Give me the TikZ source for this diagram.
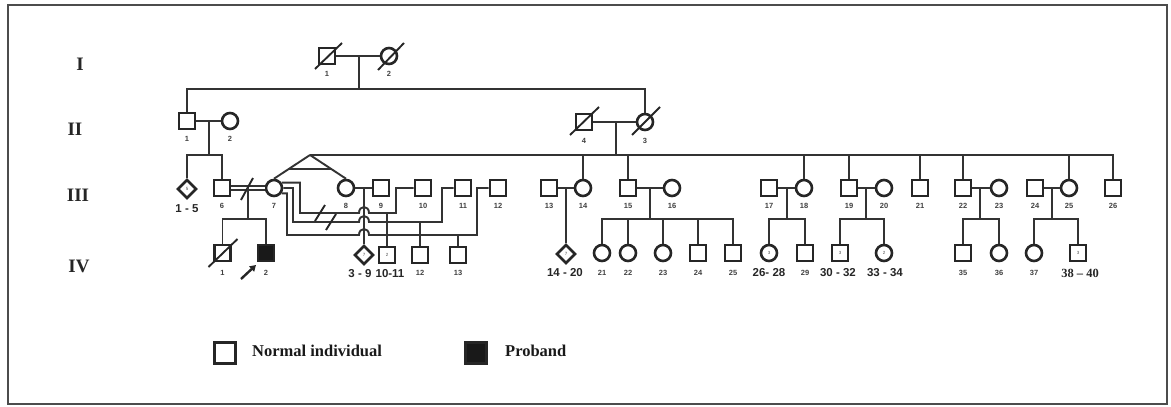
\documentclass[tikz,border=0pt]{standalone}
\usepackage{fontspec}
\setmainfont{Liberation Serif}
\setsansfont{Liberation Sans}
\usetikzlibrary{shapes.geometric,calc,arrows.meta}
\begin{document}
\begin{tikzpicture}[x=1pt,y=-1pt,
  ln/.style={line width=1.9pt, draw=black!80},
  male/.style={rectangle, draw=black!85, line width=2.6pt, minimum size=16pt, inner sep=0pt},
  female/.style={circle, draw=black!85, line width=2.6pt, minimum size=16pt, inner sep=0pt},
  unk/.style={diamond, draw=black!85, line width=2.6pt, minimum size=19pt, inner sep=0pt},
  aff/.style={male, fill=black!90},
  num/.style={font=\sffamily\bfseries\fontsize{7.5}{8}\selectfont, text=black!75, inner sep=0pt},
  big/.style={font=\sffamily\bfseries\fontsize{11.5}{12}\selectfont, text=black!85, inner sep=0pt},
  tinyn/.style={font=\sffamily\fontsize{4.5}{5}\selectfont, text=black!70, inner sep=0pt},
  gen/.style={font=\bfseries\fontsize{19}{21}\selectfont, text=black!85, inner sep=0pt},
  dead/.style={line width=1.9pt, draw=black!85},
  legtxt/.style={font=\bfseries\fontsize{16.5}{18}\selectfont, text=black!90, inner sep=0pt, anchor=west},
]
\useasboundingbox (0,0) rectangle (1171,407);
\draw[line width=1.8pt, black!70] (8,5) rectangle (1167,404);

% generation labels
\node[gen] (gI) at (80,64) {I};
\node[gen] (gII) at (75,129) {II};
\node[gen] (gIII) at (78,195) {III};
\node[gen] (gIV) at (79,266) {IV};

% ---------- Generation I
\node[male] (I1) at (327,56) {};
\node[female] (I2) at (389,56) {};
\draw[dead] ($(I1)+(-12,13)$) -- ($(I1)+(15,-13)$);
\draw[dead] ($(I2)+(-11,14)$) -- ($(I2)+(15,-13)$);
\draw[ln] (I1) -- (I2);
\coordinate (mI) at (359,56);
\coordinate (sI) at (359,89);
\draw[ln] (mI) -- (sI);
\node[num] (lI1) at (327,74) {1};
\node[num] (lI2) at (389,74) {2};

% ---------- Generation II
\node[male] (II1) at (187,121) {};
\node[female] (II2) at (230,121) {};
\node[male] (II4) at (584,122) {};
\node[female] (II3) at (645,122) {};
\draw[dead] ($(II4)+(-14,13)$) -- ($(II4)+(15,-15)$);
\draw[dead] ($(II3)+(-13,13)$) -- ($(II3)+(15,-15)$);
\draw[ln] (II1) -- (II2);
\draw[ln] (II4) -- (II3);
\draw[ln] (II1.north) |- (sI) -| (II3.north);
\node[num] (lII1) at (187,139) {1};
\node[num] (lII2) at (230,139) {2};
\node[num] (lII4) at (584,141) {4};
\node[num] (lII3) at (645,141) {3};

% ---------- Generation III
\node[unk] (U15) at (187,189) {};
\node[tinyn] (tU15) at (187,189) {5};
\node[male] (S6) at (222,188) {};
\node[female] (C7) at (274,188) {};
\node[female] (C8) at (346,188) {};
\node[male] (S9) at (381,188) {};
\node[male] (S10) at (423,188) {};
\node[male] (S11) at (463,188) {};
\node[male] (S12) at (498,188) {};
\node[male] (S13) at (549,188) {};
\node[female] (C14) at (583,188) {};
\node[male] (S15) at (628,188) {};
\node[female] (C16) at (672,188) {};
\node[male] (S17) at (769,188) {};
\node[female] (C18) at (804,188) {};
\node[male] (S19) at (849,188) {};
\node[female] (C20) at (884,188) {};
\node[male] (S21) at (920,188) {};
\node[male] (S22) at (963,188) {};
\node[female] (C23) at (999,188) {};
\node[male] (S24) at (1035,188) {};
\node[female] (C25) at (1069,188) {};
\node[male] (S26) at (1113,188) {};

% sibship of II-1 x II-2
\coordinate (mII) at (209,121);
\coordinate (sII) at (209,155);
\draw[ln] (mII) -- (sII);
\draw[ln] (U15.north) |- (sII) -| (S6.north);

% sibship of II-4 x II-3
\coordinate (mII2) at (616,122);
\coordinate (sII2) at (616,155);
\coordinate (apex) at (310,155);
\draw[ln] (mII2) -- (sII2);
\draw[ln] (apex) -- (S26.north |- apex) -- (S26.north);
\foreach \n in {C14,S15,C18,S19,S21,S22,C25}
  \draw[ln] (\n.north) -- (\n.north |- apex);
% twins 7 and 8
\draw[ln] (apex) -- (C7.north);
\draw[ln] (apex) -- (C8.north);
\draw[ln] ($(apex)!0.6!(C7.north)$) -- ($(apex)!0.6!(C8.north)$);

% III labels
\foreach \t/\x in {6/222,7/274,8/346,9/381,10/423,11/463,12/498,13/549,14/583,15/628,16/672,17/769,18/804,19/849,20/884,21/920,22/963,23/999,24/1035,25/1069,26/1113}
  \node[num] (lIII\t) at (\x,206) {\t};
\node[big] (lU15) at (187,209) {1 - 5};

% marriages III
\draw[ln, line width=1.5pt, double=white, double distance=2.6pt] (S6) -- (C7);
\coordinate (sl67a) at (241,200);
\coordinate (sl67b) at (253,178);
\draw[dead] (sl67a) -- (sl67b);
\draw[ln] (C8) -- (S9);
\draw[ln] (S13) -- (C14);
\draw[ln] (S15) -- (C16);
\draw[ln] (S17) -- (C18);
\draw[ln] (S19) -- (C20);
\draw[ln] (S22) -- (C23);
\draw[ln] (S24) -- (C25);

% ---------- Generation IV
\node[male] (IV1) at (222.5,253) {};
\node[aff] (IV2) at (266,253) {};
\draw[dead] ($(IV1)+(-14,14)$) -- ($(IV1)+(15,-14)$);
\node[unk] (U39) at (364,255) {};
\node[tinyn] (tU39) at (364,255) {7};
\node[male] (S1011) at (387,255) {};
\node[tinyn] (tS1011) at (387,255) {2};
\node[male] (IV12) at (420,255) {};
\node[male] (IV13) at (458,255) {};
\node[unk] (U1420) at (566,254) {};
\node[tinyn] (tU1420) at (566,254) {7};
\node[female] (C21) at (602,253) {};
\node[female] (C22) at (628,253) {};
\node[female] (C23b) at (663,253) {};
\node[male] (S24b) at (698,253) {};
\node[male] (S25b) at (733,253) {};
\node[female] (C2628) at (769,253) {};
\node[tinyn] (tC2628) at (769,253) {3};
\node[male] (S29) at (805,253) {};
\node[male] (S3032) at (840,253) {};
\node[tinyn] (tS3032) at (840,253) {3};
\node[female] (C3334) at (884,253) {};
\node[tinyn] (tC3334) at (884,253) {2};
\node[male] (S35) at (963,253) {};
\node[female] (C36) at (999,253) {};
\node[female] (C37) at (1034,253) {};
\node[male] (S3840) at (1078,253) {};
\node[tinyn] (tS3840) at (1078,253) {3};

% descents
\coordinate (m67) at (248,188);
\coordinate (s67) at (248,219);
\draw[ln] (m67) -- (s67);
\draw[ln] (IV1.north) |- (s67) -| (IV2.north);

\coordinate (m89) at (364,188);
\draw[ln] (m89) -- (U39.north);

\coordinate (m1314) at (566,188);
\draw[ln] (m1314) -- (U1420.north);

\coordinate (m1516) at (650,188);
\coordinate (s1516) at (650,219);
\draw[ln] (m1516) -- (s1516);
\draw[ln] (C21.north) |- (s1516) -| (S25b.north);
\foreach \n in {C22,C23b,S24b} \draw[ln] (\n.north) -- (\n.north |- s1516);

\coordinate (m1718) at (787,188);
\coordinate (s1718) at (787,219);
\draw[ln] (m1718) -- (s1718);
\draw[ln] (C2628.north) |- (s1718) -| (S29.north);

\coordinate (m1920) at (866,188);
\coordinate (s1920) at (866,219);
\draw[ln] (m1920) -- (s1920);
\draw[ln] (S3032.north) |- (s1920) -| (C3334.north);

\coordinate (m2223) at (980,188);
\coordinate (s2223) at (980,219);
\draw[ln] (m2223) -- (s2223);
\draw[ln] (S35.north) |- (s2223) -| (C36.north);

\coordinate (m2425) at (1052,188);
\coordinate (s2425) at (1052,219);
\draw[ln] (m2425) -- (s2425);
\draw[ln] (C37.north) |- (s2425) -| (S3840.north);

% partners of III-7 (lines with bridges over the 8x9 descent)
\draw[ln] (C7.35) -| (300,213) -- (359,213) .. controls (359,205) and (369,205) .. (369,213) -- (396,213) |- (S10.west);
\draw[ln] (C7.east) -| (293,222) -- (359,222) .. controls (359,214) and (369,214) .. (369,222) -- (442,222) |- (S11.west);
\draw[ln] (C7.-35) -| (287,235) -- (359,235) .. controls (359,227) and (369,227) .. (369,235) -- (477,235) |- (S12.west);
\coordinate (slAa) at (315,221);
\coordinate (slAb) at (325,205);
\coordinate (slBa) at (326,230);
\coordinate (slBb) at (336,214);
\draw[dead] (slAa) -- (slAb);
\draw[dead] (slBa) -- (slBb);
\coordinate (pA) at (387,213);
\coordinate (pB) at (420,222);
\coordinate (pC) at (458,235);
\draw[ln] (pA) -- (S1011.north);
\draw[ln] (pB) -- (IV12.north);
\draw[ln] (pC) -- (IV13.north);

% IV labels
\foreach \t/\x in {1/222.5,2/266,12/420,13/458,21/602,22/628,23/663,24/698,25/733,29/805,35/963,36/999,37/1034}
  \node[num] (lIV\t) at (\x,273) {\t};
\node[big] (l39) at (360,274) {3 - 9};
\node[big] (l1011) at (390,274) {10-11};
\node[big] (l1420) at (565,273) {14 - 20};
\node[big] (l2628) at (769,273) {26- 28};
\node[big] (l3032) at (838,273) {30 - 32};
\node[big] (l3334) at (885,273) {33 - 34};
\node[big, font=\bfseries\fontsize{12.5}{13}\selectfont] (l3840) at (1080,273) {38 -- 40};

% proband arrow
\coordinate (arS) at (241,279);
\coordinate (arE) at (256,265);
\draw[line width=2.4pt, black!85, -{Triangle[length=6pt,width=7pt]}] (arS) -- (arE);

% legend
\node[male, minimum size=21pt] (legN) at (225,353) {};
\node[legtxt] (legNt) at (252,351) {Normal individual};
\node[aff, minimum size=21pt] (legP) at (476,353) {};
\node[legtxt] (legPt) at (505,351) {Proband};
\end{tikzpicture}
\end{document}
